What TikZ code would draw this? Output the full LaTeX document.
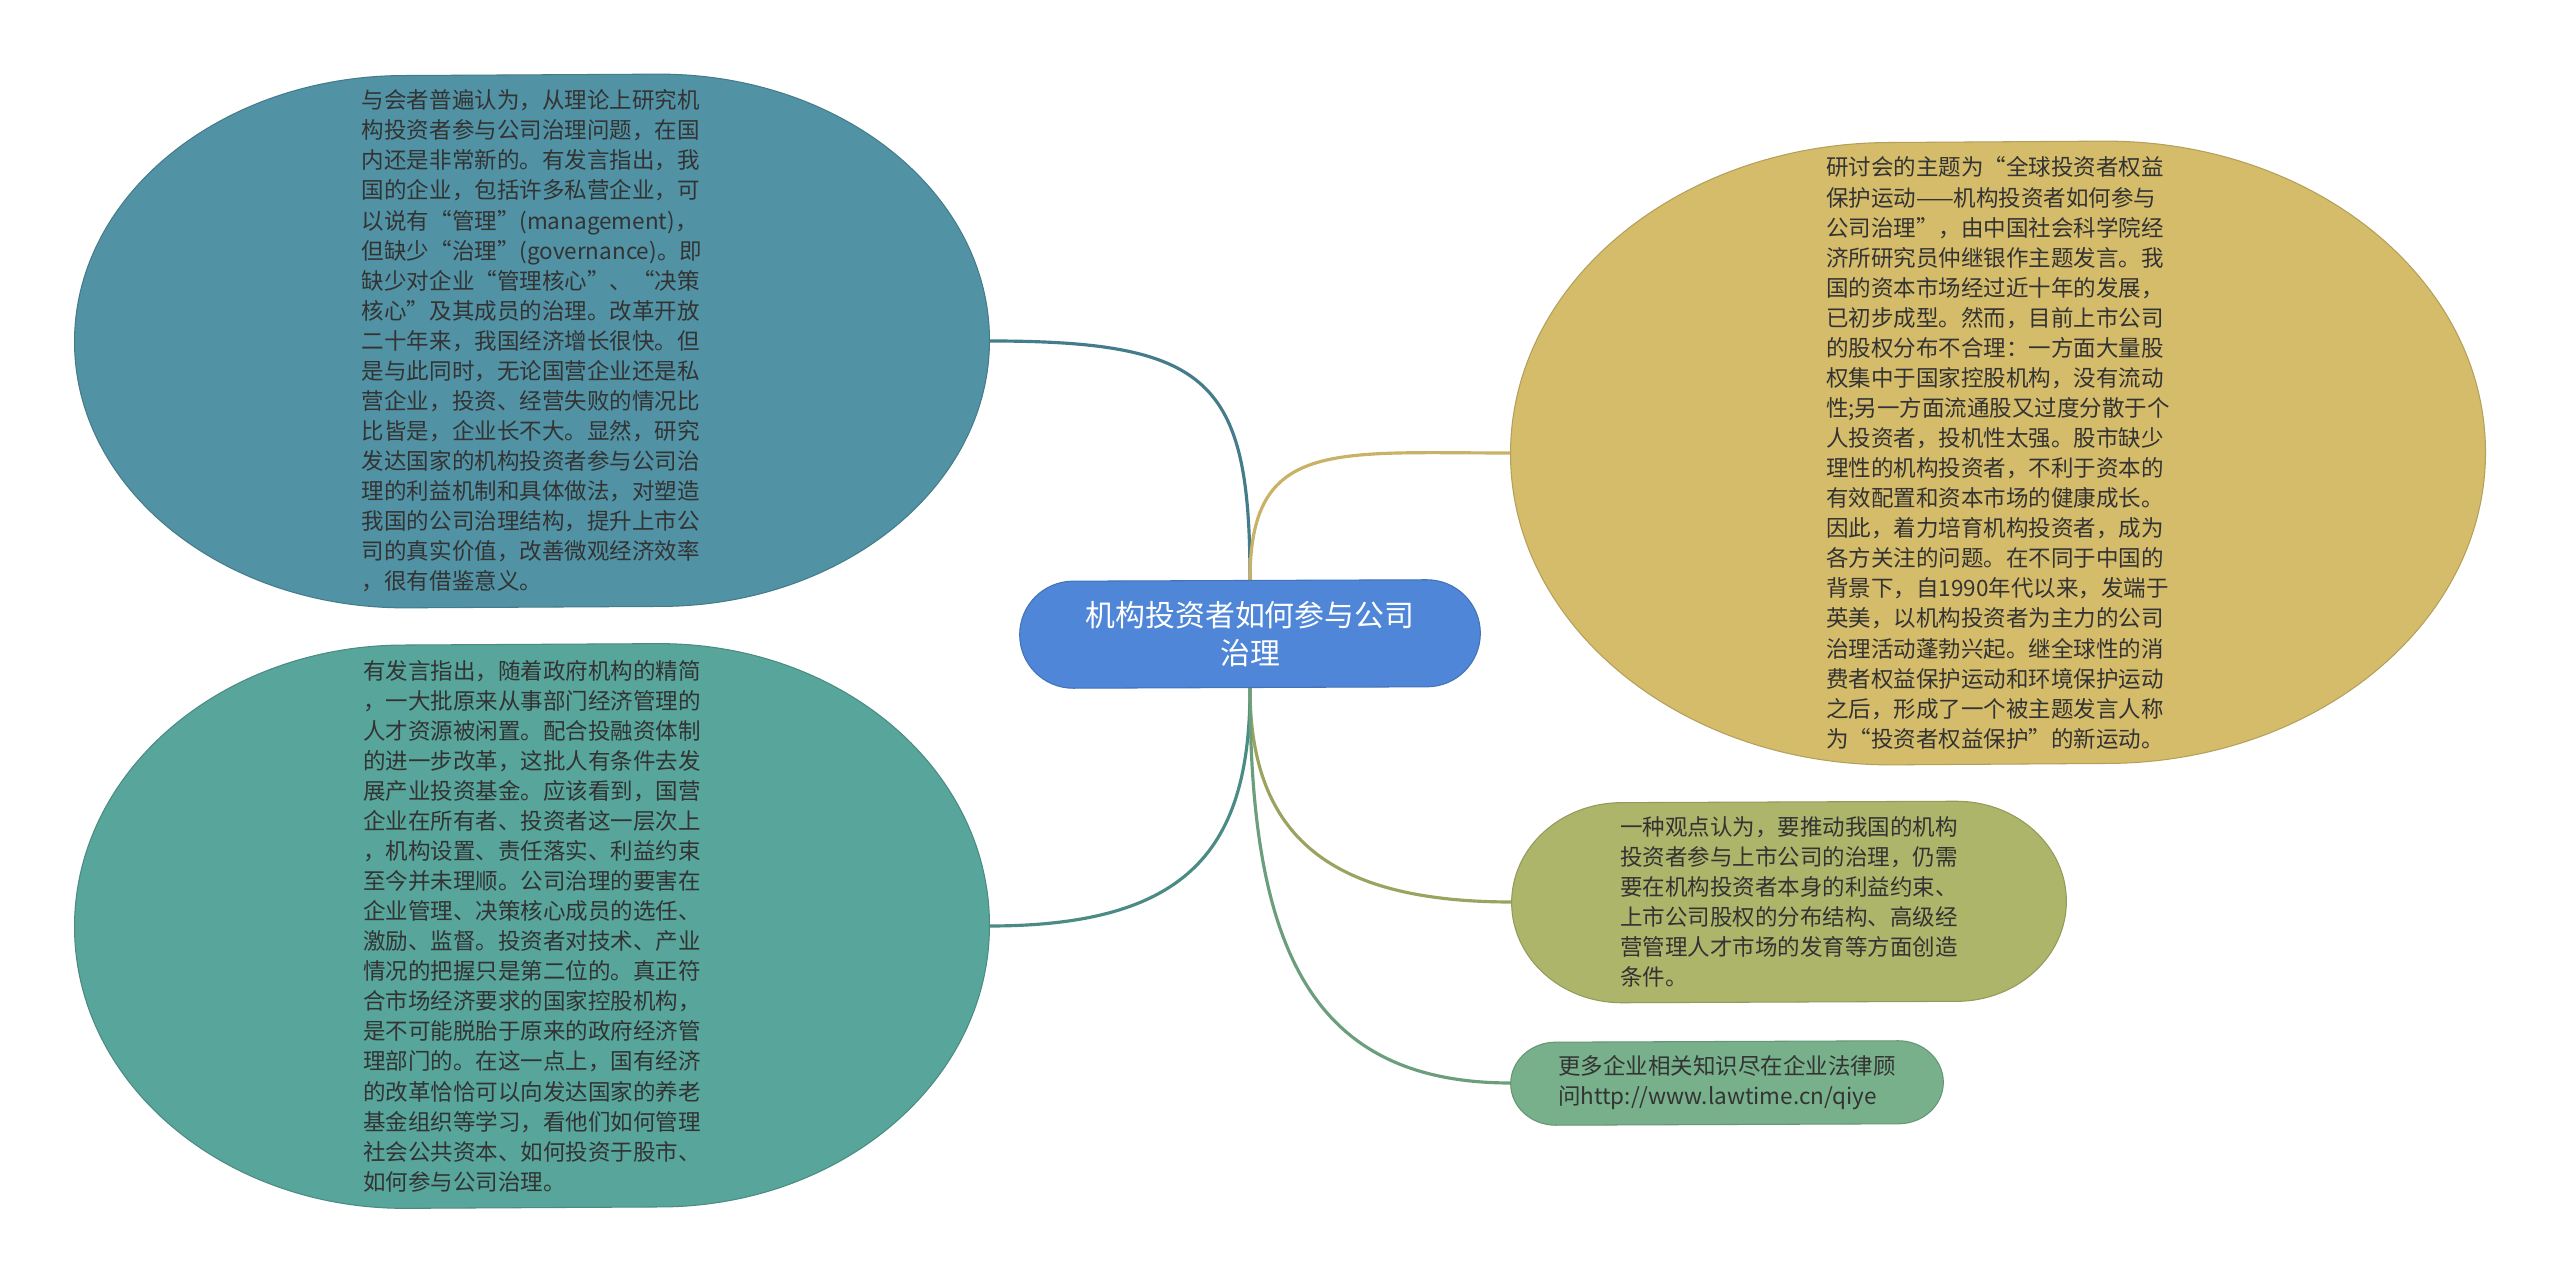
\documentclass[tikz,border=0pt]{standalone}
\usepackage{fontspec}
\setmainfont{Noto Sans CJK SC}
\usepackage{tikz}
\usetikzlibrary{positioning, calc, backgrounds}
\definecolor{tlfill}{RGB}{81,146,164}
\definecolor{blfill}{RGB}{87,165,155}
\definecolor{ylfill}{RGB}{212,188,106}
\definecolor{olfill}{RGB}{173,181,107}
\definecolor{grfill}{RGB}{119,176,139}
\definecolor{cfill}{RGB}{79,134,215}
\definecolor{txtgray}{RGB}{51,51,51}

% bubble behind a node: node, colour, corner x radius, half height
\newcommand{\bubble}[4]{%
  \filldraw[fill=#2, draw=#2!85!black, line width=0.3pt]
    ([xshift=-#3]#1.north east) arc[start angle=90, end angle=-90, x radius=#3, y radius=#4]
    -- ([xshift=#3]#1.south west) arc[start angle=270, end angle=90, x radius=#3, y radius=#4]
    -- cycle;}

\begin{document}
\begin{tikzpicture}[x=0.01cm, y=-0.01cm,
  bubble/.style={inner sep=0pt, align=left, text=txtgray, font=\fontsize{6.4pt}{8.55pt}\selectfont},
  link/.style={line width=0.9pt}]
  \useasboundingbox (0,0) rectangle (2560,1283);

  % centre
  \node[bubble, align=center, text=white, font=\fontsize{8.5pt}{11pt}\selectfont,
        minimum width=4.59cm, minimum height=1.07cm] (c) at (1250,634)
    {机构投资者如何参与公司\\治理};

  % left side
  \node[bubble, minimum width=9.13cm, minimum height=5.32cm] (tl) at (532,341)
    {与会者普遍认为，从理论上研究机\\构投资者参与公司治理问题，在国\\内还是非常新的。有发言指出，我\\国的企业，包括许多私营企业，可\\以说有“管理”(management)，\\但缺少“治理”(governance)。即\\缺少对企业“管理核心”、“决策\\核心”及其成员的治理。改革开放\\二十年来，我国经济增长很快。但\\是与此同时，无论国营企业还是私\\营企业，投资、经营失败的情况比\\比皆是，企业长不大。显然，研究\\发达国家的机构投资者参与公司治\\理的利益机制和具体做法，对塑造\\我国的公司治理结构，提升上市公\\司的真实价值，改善微观经济效率\\，很有借鉴意义。};
  \node[bubble, minimum width=9.13cm, minimum height=5.63cm] (bl) at (532,926)
    {有发言指出，随着政府机构的精简\\，一大批原来从事部门经济管理的\\人才资源被闲置。配合投融资体制\\的进一步改革，这批人有条件去发\\展产业投资基金。应该看到，国营\\企业在所有者、投资者这一层次上\\，机构设置、责任落实、利益约束\\至今并未理顺。公司治理的要害在\\企业管理、决策核心成员的选任、\\激励、监督。投资者对技术、产业\\情况的把握只是第二位的。真正符\\合市场经济要求的国家控股机构，\\是不可能脱胎于原来的政府经济管\\理部门的。在这一点上，国有经济\\的改革恰恰可以向发达国家的养老\\基金组织等学习，看他们如何管理\\社会公共资本、如何投资于股市、\\如何参与公司治理。};

  % right side
  \node[bubble, minimum width=9.73cm, minimum height=6.22cm] (yl) at (1998,453)
    {研讨会的主题为“全球投资者权益\\保护运动——机构投资者如何参与\\公司治理”，由中国社会科学院经\\济所研究员仲继银作主题发言。我\\国的资本市场经过近十年的发展，\\已初步成型。然而，目前上市公司\\的股权分布不合理：一方面大量股\\权集中于国家控股机构，没有流动\\性;另一方面流通股又过度分散于个\\人投资者，投机性太强。股市缺少\\理性的机构投资者，不利于资本的\\有效配置和资本市场的健康成长。\\因此，着力培育机构投资者，成为\\各方关注的问题。在不同于中国的\\背景下，自1990年代以来，发端于\\英美，以机构投资者为主力的公司\\治理活动蓬勃兴起。继全球性的消\\费者权益保护运动和环境保护运动\\之后，形成了一个被主题发言人称\\为“投资者权益保护”的新运动。};
  \node[bubble, minimum width=5.53cm, minimum height=2.0cm] (ol) at (1789,902)
    {一种观点认为，要推动我国的机构\\投资者参与上市公司的治理，仍需\\要在机构投资者本身的利益约束、\\上市公司股权的分布结构、高级经\\营管理人才市场的发育等方面创造\\条件。};
  \node[bubble, minimum width=4.31cm, minimum height=0.83cm] (gr) at (1727,1083)
    {更多企业相关知识尽在企业法律顾\\问http://www.lawtime.cn/qiye};

  \begin{pgfonlayer}{background}
    \fill[white] (0,0) rectangle (2560,1283);
    \draw[link, tlfill!85!black] (tl.east) .. controls +(220,0) and +(0,-200) .. (c.north);
    \draw[link, ylfill!95!black] (c.north) .. controls +(0,-140) and +(-180,0) .. (yl.west);
    \draw[link, blfill!85!black] (c.south) .. controls +(0,160) and +(200,0) .. (bl.east);
    \draw[link, olfill!90!black] (c.south) .. controls +(0,150) and +(-180,0) .. (ol.west);
    \draw[link, grfill!90!black] (c.south) .. controls +(0,260) and +(-200,0) .. (gr.west);

    \bubble{tl}{tlfill}{3.3cm}{2.66cm}
    \bubble{bl}{blfill}{3.3cm}{2.815cm}
    \bubble{yl}{ylfill}{3.8cm}{3.11cm}
    \bubble{ol}{olfill}{1.1cm}{1.0cm}
    \bubble{gr}{grfill}{0.45cm}{0.415cm}
    \bubble{c}{cfill}{0.535cm}{0.535cm}
  \end{pgfonlayer}
\end{tikzpicture}
\end{document}
